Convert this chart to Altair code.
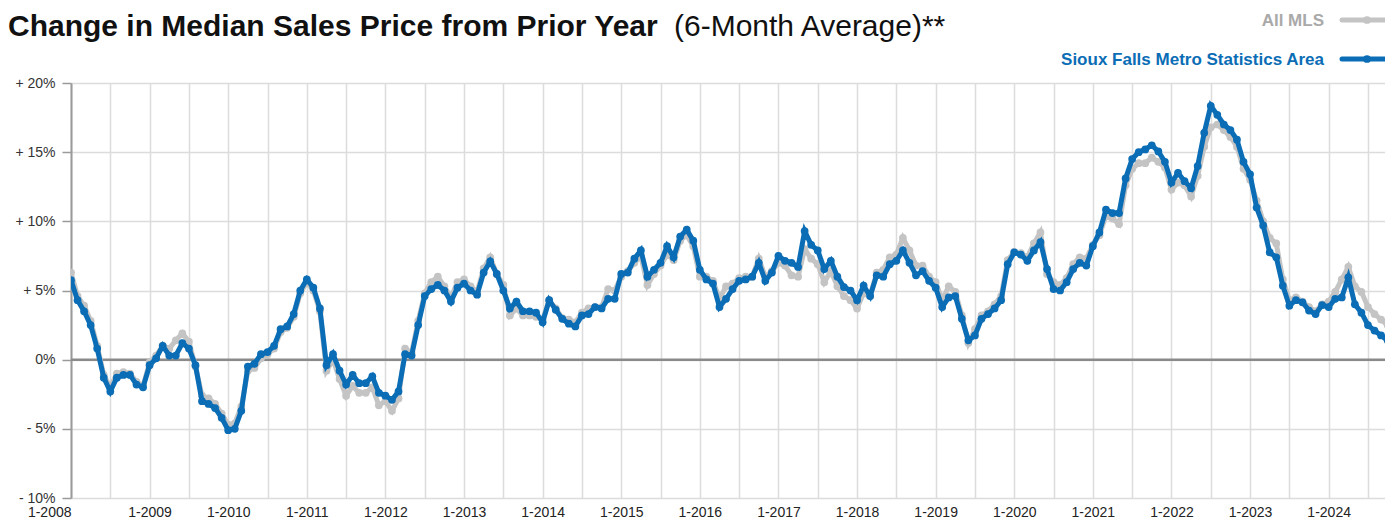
import altair as alt
import pandas as pd

START_YEAR = 2008
# Monthly 6-month-average change in median sales price (%), Jan 2008 .. Oct 2024
sioux_falls = [
    5.75, 4.3, 3.5, 2.5, 0.8, -1.3, -2.3, -1.3, -1.1, -1.1, -1.8, -2.0,
    -0.4, 0.1, 1.0, 0.3, 0.3, 1.2, 0.8, -0.4, -3.0, -3.2, -3.5, -4.2,
    -5.1, -5.0, -3.7, -0.5, -0.3, 0.4, 0.55, 1.0, 2.2, 2.4, 3.3, 5.0,
    5.8, 5.2, 3.7, -0.4, 0.4, -0.8, -1.8, -1.1, -1.7, -1.7, -1.2, -2.4,
    -2.6, -2.9, -2.3, 0.4, 0.3, 2.5, 4.6, 5.1, 5.4, 5.0, 4.2, 5.2,
    5.5, 5.0, 4.7, 6.3, 7.1, 6.2, 5.0, 3.7, 4.2, 3.5, 3.5, 3.4,
    2.7, 4.3, 3.6, 2.95, 2.6, 2.4, 3.2, 3.3, 3.8, 3.7, 4.4, 4.4,
    6.2, 6.3, 7.3, 7.9, 6.0, 6.5, 7.0, 8.2, 7.4, 8.9, 9.4, 8.6,
    6.5, 5.8, 5.5, 3.8, 4.4, 5.1, 5.7, 5.8, 6.0, 7.0, 5.7, 6.3,
    7.5, 7.15, 7.0, 6.7, 9.3, 8.3, 7.9, 6.55, 7.15, 6.0, 5.25, 5.0,
    4.3, 5.35, 4.6, 6.1, 6.0, 6.9, 7.15, 7.9, 7.0, 6.1, 6.4, 5.7,
    5.2, 3.8, 4.5, 4.6, 2.95, 1.4, 1.75, 2.95, 3.3, 3.7, 4.3, 6.9,
    7.75, 7.6, 7.15, 7.9, 8.5, 6.55, 5.1, 5.0, 5.6, 6.55, 7.0, 6.8,
    8.2, 9.2, 10.85, 10.6, 10.6, 13.1, 14.5, 15.0, 15.2, 15.5, 15.05, 14.3,
    12.8, 13.5, 12.9, 12.4, 14.0, 16.4, 18.35, 17.7, 17.0, 16.6, 15.9, 14.3,
    13.4, 11.0, 9.7, 7.75, 7.4, 5.35, 3.9, 4.3, 4.15, 3.55, 3.3, 3.95,
    3.8, 4.4, 4.5, 5.95, 4.0, 3.4, 2.5, 2.1, 1.75, 1.4,
]
all_mls = [
    6.3, 4.6, 3.9, 2.8, 1.0, -1.1, -2.0, -1.0, -0.9, -1.0, -1.6, -1.9,
    -0.2, 0.3, 1.0, 0.8, 1.4, 1.9, 1.3, -0.5, -2.6, -2.8, -3.2, -3.9,
    -4.7, -4.6, -3.4, -0.8, -0.6, 0.1, 0.4, 0.8, 2.0, 2.3, 3.1, 4.8,
    5.6, 5.0, 3.5, -0.8, 0.0, -1.4, -2.6, -1.9, -2.4, -2.4, -2.0, -3.3,
    -3.0, -3.7, -2.8, 0.8, 0.5, 2.8, 4.8, 5.6, 6.0, 5.3, 4.5, 5.6,
    5.8, 5.3, 4.9, 6.6, 7.4, 6.2, 5.4, 3.2, 3.7, 3.2, 3.2, 3.1,
    2.9, 4.3, 3.7, 3.0, 2.9, 2.7, 3.4, 3.7, 3.8, 3.8, 5.1, 5.0,
    6.0, 6.4, 7.0, 7.5, 5.4, 6.2, 6.8, 7.6, 7.2, 8.6, 9.0, 8.2,
    6.0, 6.0, 5.7, 4.4, 5.3, 5.5, 5.9, 6.0, 6.0, 7.3, 6.0, 6.4,
    7.0, 6.8, 6.1, 6.0, 8.0, 7.3, 6.9, 5.6, 6.4, 5.3, 4.6, 4.3,
    3.7, 4.8, 4.6, 6.3, 6.5, 7.4, 7.6, 8.8, 7.9, 6.8, 6.8, 6.0,
    5.6, 4.3, 5.3, 4.9, 3.2, 1.2, 2.2, 3.2, 3.5, 4.0, 4.6, 7.2,
    7.8, 7.7, 7.4, 8.4, 9.2, 6.2, 5.6, 5.4, 5.9, 6.9, 7.4, 7.3,
    8.3, 9.0, 10.4, 10.2, 9.8, 12.6, 13.8, 14.2, 14.2, 14.6, 14.3, 13.9,
    12.3, 12.8, 12.6, 11.8, 13.3, 15.4, 16.8, 17.0, 16.6, 16.1, 15.4, 13.8,
    13.0, 11.5, 10.0, 8.8, 8.4, 5.8, 4.3, 4.5, 4.2, 3.8, 3.5, 4.0,
    4.2, 4.9, 5.8, 6.7, 5.3, 4.9, 3.8, 3.3, 2.9, 2.5,
]
y_ticks = [-10, -5, 0, 5, 10, 15, 20]
series_names = ["All MLS", "Sioux Falls Metro Statistics Area"]
series_colors = ["#c4c4c4", "#0a6db5"]
title_bold = "Change in Median Sales Price from Prior Year"
title_regular = "(6-Month Average)**"

FONT = "Liberation Sans"
W, H = 1314, 415
n = len(sioux_falls)

df_sf = pd.DataFrame({"m": list(range(n)), "v": sioux_falls})
df_all = pd.DataFrame({"m": list(range(len(all_mls))), "v": all_mls})
df_zero = pd.DataFrame({"z": [0]})
one = pd.DataFrame({"a": [0]})

xscale = alt.Scale(domain=[0, 200.6], nice=False, zero=False)
yscale = alt.Scale(domain=[-10, 20], nice=False, zero=False)

x_axis = alt.Axis(
    values=list(range(0, 201, 6)),
    labelExpr=f"datum.value % 12 == 0 ? '1-' + ({START_YEAR} + datum.value / 12) : ''",
    labelAlign={"condition": {"test": "datum.value == 0", "value": "right"}, "value": "center"},
    grid=True, gridColor="#dcdcdc", gridWidth=1.5,
    domain=False, ticks=False, labelFlush=False, labelOverlap=False,
    labelFont=FONT, labelFontSize=14, labelColor="#222222", labelPadding=7,
    title=None,
)
y_axis = alt.Axis(
    values=y_ticks,
    labelExpr="datum.value > 0 ? '+ ' + datum.value + '%' : (datum.value < 0 ? '- ' + (-datum.value) + '%' : '0%')",
    grid=True, gridColor="#dcdcdc", gridWidth=1.5,
    domain=True, domainColor="#9a9a9a", domainWidth=2,
    ticks=True, tickColor="#9a9a9a", tickSize=9, tickWidth=1.5,
    labelFont=FONT, labelFontSize=14, labelColor="#333333", labelPadding=7,
    title=None,
)

X = alt.X("m:Q", scale=xscale, axis=x_axis)
Y = alt.Y("v:Q", scale=yscale, axis=y_axis)

zero = alt.Chart(df_zero).mark_rule(color="#8a8a8a", strokeWidth=2.5).encode(
    y=alt.Y("z:Q", scale=yscale, axis=y_axis)
)

def series(df, color):
    return alt.Chart(df).mark_line(
        color=color, strokeWidth=5, clip=True,
        point=alt.OverlayMarkDef(filled=True, size=60, color=color, opacity=1),
    ).encode(x=X, y=Y)

gray = series(df_all, series_colors[0])
blue = series(df_sf, series_colors[1])

# Title (above the plot area; coordinates relative to plot origin)
t1 = alt.Chart(one).mark_text(
    text=title_bold, font=FONT, fontSize=30, fontWeight="bold", color="#111111",
    align="left", baseline="alphabetic",
).encode(x=alt.value(-63), y=alt.value(-47))
t2 = alt.Chart(one).mark_text(
    text=title_regular, font=FONT, fontSize=30, fontWeight="normal", color="#111111",
    align="left", baseline="alphabetic",
).encode(x=alt.value(603), y=alt.value(-47))

# Legend (label on the left, line-with-dot symbol on the right)
legend_layers = []
for i, (name, col) in enumerate(zip(series_names, series_colors)):
    ly = -62 + i * 39
    legend_layers.append(
        alt.Chart(one).mark_text(
            text=name, font=FONT, fontSize=17, fontWeight="bold", color=(col if i else "#a9a9a9"),
            align="right", baseline="middle",
        ).encode(x=alt.value(1253), y=alt.value(ly))
    )
    legend_layers.append(
        alt.Chart(one).mark_rule(color=col, strokeWidth=5, strokeCap="round").encode(
            x=alt.value(1271), x2=alt.value(1330), y=alt.value(ly - 1)
        )
    )
    legend_layers.append(
        alt.Chart(one).mark_point(filled=True, size=60, color=col, opacity=1).encode(
            x=alt.value(1296), y=alt.value(ly - 1)
        )
    )

chart = alt.layer(zero, gray, blue, t1, t2, *legend_layers).properties(
    width=W, height=H,
    autosize=alt.AutoSizeParams(type="none"),
    padding={"left": 63, "top": 75, "right": 0, "bottom": 20},
).configure_view(stroke=None).configure(background="white")

chart.save("out.html", embed_options={"renderer": "svg", "actions": False})
